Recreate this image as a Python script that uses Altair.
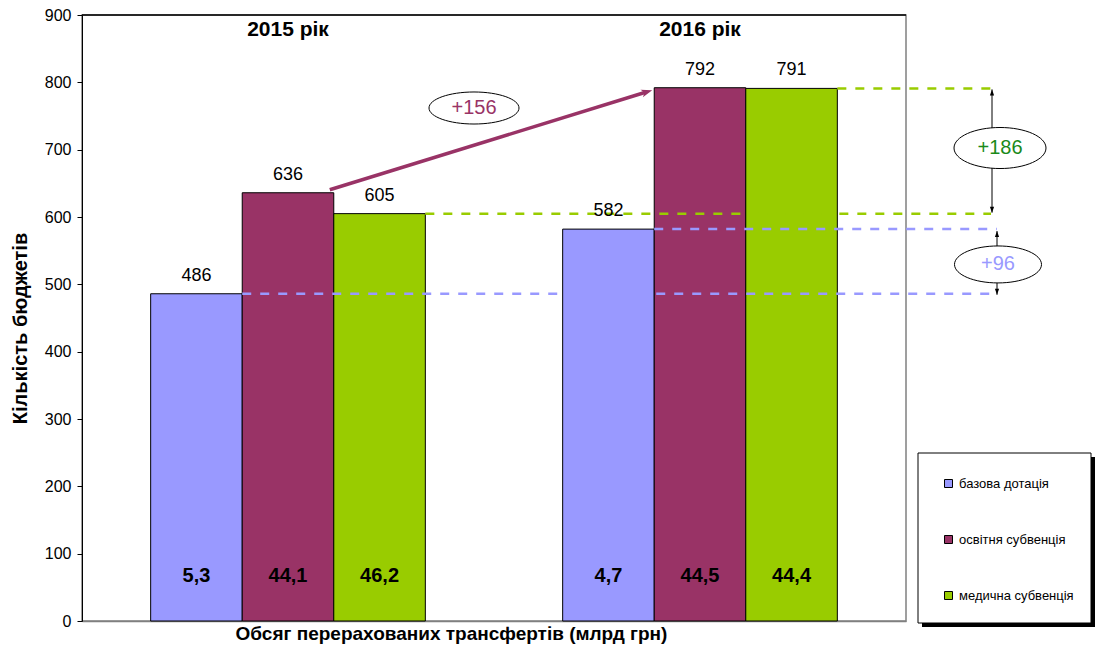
import math
import altair as alt
import pandas as pd

# ---------------- data ----------------
years = ["2015 рік", "2016 рік"]
categories = ["базова дотація", "освітня субвенція", "медична субвенція"]
counts_2015 = [486, 636, 605]
counts_2016 = [582, 792, 791]
transfers_2015 = ["5,3", "44,1", "46,2"]
transfers_2016 = ["4,7", "44,5", "44,4"]
colors = ["#9999FF", "#993366", "#99CC00"]

y_title = "Кількість бюджетів"
x_title = "Обсяг перерахованих трансфертів (млрд грн)"

# ---------------- layout / style ----------------
FONT = "Liberation Sans"
W, H = 824, 606
YMAX = 900
P_IN, P_OUT = 1 / 3, 1 / 6

step = W / (len(years) - P_IN + 2 * P_OUT)
bw = step * (1 - P_IN) / len(categories)


def bar_left(g, c):
    return step * P_OUT + g * step + c * bw


def bar_right(g, c):
    return bar_left(g, c) + bw


def ypx(v):
    return H * (1 - v / YMAX)


rows = []
for yr, counts, tr in [(years[0], counts_2015, transfers_2015),
                       (years[1], counts_2016, transfers_2016)]:
    for c, v, t in zip(categories, counts, tr):
        rows.append({"year": yr, "category": c, "count": v, "transfer": t, "zero": 0})
df = pd.DataFrame(rows)
df_years = pd.DataFrame({"year": years, "top": [YMAX] * len(years)})

xscale = alt.Scale(domain=years, paddingInner=P_IN, paddingOuter=P_OUT)
xoff = alt.XOffset("category:N", scale=alt.Scale(domain=categories, paddingInner=0, paddingOuter=0))
yscale = alt.Scale(domain=[0, YMAX], nice=False)

bars = alt.Chart(df).mark_bar(stroke="black", strokeWidth=1).encode(
    x=alt.X("year:N", scale=xscale,
            axis=alt.Axis(labels=False, ticks=False, domainColor="#808080", domainWidth=1.5,
                          title=x_title, titleFont=FONT, titleFontSize=19, titleFontWeight="bold",
                          titleColor="black", titleX=369, titleY=12, titleBaseline="middle",
                          titleAlign="center")),
    xOffset=xoff,
    y=alt.Y("count:Q", scale=yscale, stack=None,
            axis=alt.Axis(values=list(range(0, YMAX + 1, 100)), grid=False, tickSize=5,
                          tickColor="black", domainColor="black", labelFont=FONT,
                          labelFontSize=16, labelColor="black", labelPadding=6,
                          title=y_title, titleFont=FONT, titleFontSize=20,
                          titleFontWeight="bold", titleColor="black", titleX=-62,
                          titleY=H / 2 + 10, titleBaseline="middle", titleAngle=270)),
    color=alt.Color("category:N", scale=alt.Scale(domain=categories, range=colors),
                    legend=alt.Legend(orient="none", legendX=860, legendY=462, title=None,
                                      symbolType="square", symbolSize=64,
                                      symbolStrokeColor="black", symbolStrokeWidth=1,
                                      symbolOpacity=1, labelFont=FONT, labelFontSize=13,
                                      labelColor="black", rowPadding=42, padding=0,
                                      labelOffset=4)),
)

value_labels = alt.Chart(df).mark_text(font=FONT, fontSize=18, color="black", dy=-13,
                                       baseline="alphabetic").encode(
    x=alt.X("year:N", scale=xscale), xOffset=xoff,
    y=alt.Y("count:Q", scale=yscale), text="count:Q")

bottom_labels = alt.Chart(df).mark_text(font=FONT, fontSize=20, fontWeight="bold",
                                        color="black", dy=-45, baseline="middle").encode(
    x=alt.X("year:N", scale=xscale), xOffset=xoff,
    y=alt.Y("zero:Q", scale=yscale), text="transfer:N")

year_labels = alt.Chart(df_years).mark_text(font=FONT, fontSize=21, fontWeight="bold",
                                            color="black", dy=15, baseline="middle").encode(
    x=alt.X("year:N", scale=xscale),
    y=alt.Y("top:Q", scale=yscale), text="year:N")

top_border = alt.Chart(pd.DataFrame({"a": [0]})).mark_rule(color="black", strokeWidth=1.5).encode(
    y=alt.value(0))

# ---------------- annotations (pixel geometry derived from the values) ----------------
dash_df = pd.DataFrame([
    {"x": bar_right(0, 0), "x2": 915, "y": ypx(counts_2015[0]), "c": colors[0]},
    {"x": bar_right(1, 0), "x2": 915, "y": ypx(counts_2016[0]), "c": colors[0]},
    {"x": bar_right(0, 2), "x2": 909, "y": ypx(counts_2015[2]), "c": colors[2]},
    {"x": bar_right(1, 2), "x2": 909, "y": ypx(counts_2016[2]), "c": colors[2]},
])
dashes = alt.Chart(dash_df).mark_rule(strokeWidth=2.5, strokeDash=[9, 9], clip=False).encode(
    x=alt.X("x:Q", scale=None), x2="x2:Q", y=alt.Y("y:Q", scale=None),
    stroke=alt.Stroke("c:N", scale=None))

vert_df = pd.DataFrame([
    {"x": 910, "y": ypx(counts_2016[2]) + 1, "y2": ypx(counts_2015[2]) - 1},
    {"x": 915, "y": ypx(counts_2016[0]) + 2, "y2": ypx(counts_2015[0]) + 1},
])
verts = alt.Chart(vert_df).mark_rule(color="black", strokeWidth=1, clip=False).encode(
    x=alt.X("x:Q", scale=None), y=alt.Y("y:Q", scale=None), y2="y2:Q")

HEAD_UP = "M0,0 L-0.7,2 L0.7,2 Z"
HEAD_DOWN = "M0,0 L-0.7,-2 L0.7,-2 Z"
head_df = pd.DataFrame([
    {"x": 910, "y": vert_df.y[0], "s": HEAD_UP},
    {"x": 910, "y": vert_df.y2[0], "s": HEAD_DOWN},
    {"x": 915, "y": vert_df.y[1], "s": HEAD_UP},
    {"x": 915, "y": vert_df.y2[1], "s": HEAD_DOWN},
])
heads = alt.Chart(head_df).mark_point(filled=True, color="black", opacity=1, size=36,
                                      clip=False).encode(
    x=alt.X("x:Q", scale=None), y=alt.Y("y:Q", scale=None),
    shape=alt.Shape("s:N", scale=None))

# maroon arrow from 2015 to 2016 "освітня субвенція"
sx, sy = bar_right(0, 1) - 4, ypx(counts_2015[1]) - 3
tx, ty = bar_left(1, 1) - 2, ypx(counts_2016[1]) + 2.5
ang = math.atan2(ty - sy, tx - sx)
ex, ey = tx - 7 * math.cos(ang), ty - 7 * math.sin(ang)
arrow_df = pd.DataFrame([{"x": sx, "y": sy, "x2": ex, "y2": ey}])
arrow = alt.Chart(arrow_df).mark_rule(color=colors[1], strokeWidth=3.5, clip=False).encode(
    x=alt.X("x:Q", scale=None), y=alt.Y("y:Q", scale=None), x2="x2:Q", y2="y2:Q")
arrow_head = alt.Chart(pd.DataFrame([{"x": tx, "y": ty}])).mark_point(
    shape="M0,0 L-2.2,-0.8 L-1.6,0 L-2.2,0.8 Z", filled=True, color=colors[1], opacity=1,
    size=100, angle=(math.degrees(ang) + 360) % 360, clip=False).encode(
    x=alt.X("x:Q", scale=None), y=alt.Y("y:Q", scale=None))


def ellipse_path(r):
    k = 0.5523
    return (f"M-1,0 C-1,{-k * r:.3f} {-k:.3f},{-r:.3f} 0,{-r:.3f} "
            f"C{k:.3f},{-r:.3f} 1,{-k * r:.3f} 1,0 "
            f"C1,{k * r:.3f} {k:.3f},{r:.3f} 0,{r:.3f} "
            f"C{-k:.3f},{r:.3f} -1,{k * r:.3f} -1,0 Z")


diff_edu = counts_2016[1] - counts_2015[1]
diff_med = counts_2016[2] - counts_2015[2]
diff_base = counts_2016[0] - counts_2015[0]
ell_df = pd.DataFrame([
    {"x": 392, "y": 93, "s": ellipse_path(32 / 90), "sz": 90 ** 2,
     "t": f"+{diff_edu}", "tc": "#993366"},
    {"x": 918, "y": (ypx(counts_2015[2]) + ypx(counts_2016[2])) / 2 - 3,
     "s": ellipse_path(41 / 92), "sz": 92 ** 2, "t": f"+{diff_med}", "tc": "#1A8A1A"},
    {"x": 916, "y": (ypx(counts_2015[0]) + ypx(counts_2016[0])) / 2 + 3,
     "s": ellipse_path(37 / 87), "sz": 87 ** 2, "t": f"+{diff_base}", "tc": "#9999FF"},
])
ellipses = alt.Chart(ell_df).mark_point(filled=True, fill="white", stroke="black",
                                        strokeWidth=1, opacity=1, clip=False).encode(
    x=alt.X("x:Q", scale=None), y=alt.Y("y:Q", scale=None),
    shape=alt.Shape("s:N", scale=None), size=alt.Size("sz:Q", scale=None))
ell_text = alt.Chart(ell_df).mark_text(font=FONT, fontSize=20, baseline="middle",
                                       align="center", clip=False).encode(
    x=alt.X("x:Q", scale=None), y=alt.Y("y:Q", scale=None), text="t:N",
    fill=alt.Fill("tc:N", scale=None))

# legend frame with shadow
one = pd.DataFrame({"a": [0]})
legend_shadow = alt.Chart(one).mark_rect(color="black", clip=False).encode(
    x=alt.value(840), x2=alt.value(1013), y=alt.value(442), y2=alt.value(612))
legend_box = alt.Chart(one).mark_rect(fill="white", stroke="black", strokeWidth=1,
                                      clip=False).encode(
    x=alt.value(836), x2=alt.value(1009), y=alt.value(438), y2=alt.value(608))

chart = alt.layer(
    bars, top_border, dashes, verts, heads, arrow, arrow_head, ellipses, ell_text,
    value_labels, bottom_labels, year_labels, legend_shadow, legend_box,
).properties(
    width=W, height=H,
    autosize=alt.AutoSizeParams(type="none"),
    padding={"left": 74, "top": 7, "right": 190, "bottom": 24},
).configure_view(stroke="#808080", strokeWidth=1.5)

chart.save("out.html", embed_options={"renderer": "svg", "actions": False})
